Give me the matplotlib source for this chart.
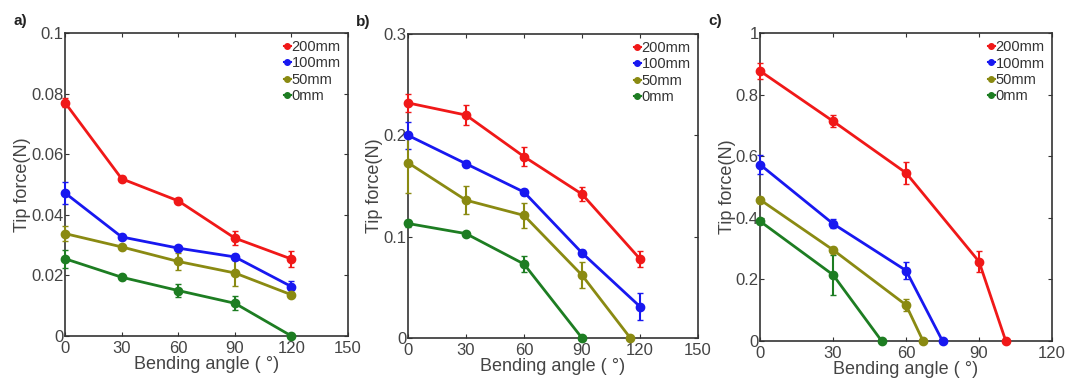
import numpy as np
import matplotlib
matplotlib.use('Agg')
from matplotlib import pyplot as plt
from matplotlib.lines import Line2D

plt.rcParams['font.family'] = ['Liberation Sans', 'DejaVu Sans']

labels = ['200mm', '100mm', '50mm', '0mm']
colors = ['#f01818', '#1818f0', '#8a8a12', '#1d7d22']

# panel a
a_x = [[0, 30, 60, 90, 120]] * 4
a_y = [[0.0770, 0.0519, 0.0446, 0.0323, 0.0254],
       [0.0472, 0.0327, 0.0290, 0.0261, 0.0163],
       [0.0338, 0.0294, 0.0246, 0.0208, 0.0136],
       [0.0255, 0.0194, 0.0150, 0.0108, 0.0]]
a_err = [[0.0015, 0.0008, 0.0008, 0.0024, 0.0025],
         [0.0036, 0.0008, 0.0008, 0.0010, 0.0020],
         [0.0025, 0.0008, 0.0028, 0.0044, 0.0006],
         [0.0030, 0.0006, 0.0020, 0.0023, 0.0]]

# panel b
b_x = [[0, 30, 60, 90, 120],
       [0, 30, 60, 90, 120],
       [0, 30, 60, 90, 115],
       [0, 30, 60, 90]]
b_y = [[0.232, 0.220, 0.179, 0.142, 0.078],
       [0.200, 0.172, 0.144, 0.084, 0.031],
       [0.173, 0.136, 0.121, 0.062, 0.0],
       [0.113, 0.103, 0.073, 0.0]]
b_err = [[0.009, 0.010, 0.009, 0.007, 0.008],
         [0.013, 0.003, 0.003, 0.003, 0.013],
         [0.030, 0.014, 0.012, 0.013, 0.0],
         [0.003, 0.002, 0.008, 0.0]]

# panel c
c_x = [[0, 30, 60, 90, 101],
       [0, 30, 60, 75],
       [0, 30, 60, 67],
       [0, 30, 50]]
c_y = [[0.877, 0.714, 0.546, 0.258, 0.0],
       [0.573, 0.381, 0.229, 0.0],
       [0.459, 0.296, 0.117, 0.0],
       [0.389, 0.215, 0.0]]
c_err = [[0.025, 0.020, 0.035, 0.035, 0.0],
         [0.030, 0.015, 0.027, 0.0],
         [0.010, 0.008, 0.020, 0.0],
         [0.008, 0.065, 0.0]]

panels = [
    ('a)', a_x, a_y, a_err, (0, 150), [0, 30, 60, 90, 120, 150], (0, 0.1),
     [0, 0.02, 0.04, 0.06, 0.08, 0.1], ['0', '0.02', '0.04', '0.06', '0.08', '0.1'],
     [0.0604, 0.1204, 0.2628, 0.7932]),
    ('b)', b_x, b_y, b_err, (0, 150), [0, 30, 60, 90, 120, 150], (0, 0.3),
     [0, 0.1, 0.2, 0.3], ['0', '0.1', '0.2', '0.3'],
     [0.3788, 0.1152, 0.2693, 0.7958]),
    ('c)', c_x, c_y, c_err, (0, 120), [0, 30, 60, 90, 120], (0, 1),
     [0, 0.2, 0.4, 0.6, 0.8, 1], ['0', '0.2', '0.4', '0.6', '0.8', '1'],
     [0.7057, 0.1073, 0.2711, 0.8060]),
]

fig = plt.figure(figsize=(10.77, 3.82), dpi=100)

for tag, xs, ys, errs, xlim, xticks, ylim, yticks, ytl, pos in panels:
    ax = fig.add_axes(pos)
    for x, y, e, c in zip(xs, ys, errs, colors):
        ax.errorbar(x, y, yerr=e, color=c, lw=2, marker='o', ms=6,
                    capsize=2, elinewidth=1.5, clip_on=False, zorder=3)
    ax.set_xlim(*xlim)
    ax.set_ylim(*ylim)
    ax.set_xticks(xticks)
    ax.set_yticks(yticks)
    ax.set_yticklabels(ytl)
    ax.tick_params(direction='in', top=True, right=True, length=3,
                   labelsize=12, colors='#333333', labelcolor='#444444')
    ax.tick_params(axis='y', pad=1)
    for s in ax.spines.values():
        s.set_color('#333333')
        s.set_linewidth(1.2)
    ax.set_xlabel('Bending angle ( °)', fontsize=13, color='#444444', labelpad=0)
    ax.set_ylabel('Tip force(N)', fontsize=13, color='#444444', labelpad=0)
    handles = [Line2D([], [], color=c, lw=1.5, marker='o', ms=4) for c in colors]
    leg = ax.legend(handles, labels, loc='upper right', frameon=False, fontsize=10.5,
                    handlelength=0.5, handletextpad=0.05, borderaxespad=0.1,
                    labelspacing=0.15)
    for t in leg.get_texts():
        t.set_color('#333333')
    fig.text(pos[0] - 0.048, pos[1] + pos[3] + 0.02, tag, fontsize=11,
             fontweight='bold', color='#222222')

fig.savefig('out.png', dpi=100)
